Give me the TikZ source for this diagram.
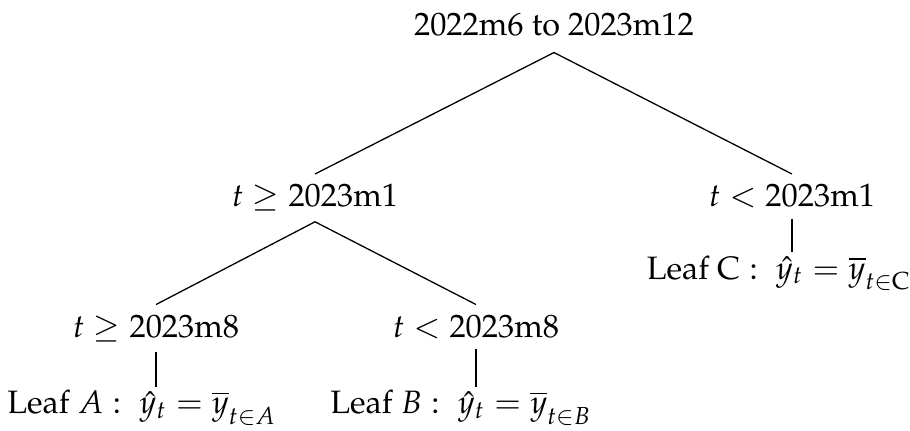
\documentclass[tikz,border=0pt]{standalone}
\usepackage[T1]{fontenc}
\usepackage{mathpazo}
\usepackage{amsmath}
\usepackage{tikz}
\tikzset{
  split/.style={anchor=base,inner sep=3pt},
  leaf/.style={anchor=base,inner sep=0.8pt},
  branch/.style={thin}
}

\begin{document}
\begin{tikzpicture}
\useasboundingbox (0,0) rectangle (9.874,4.666);

% Sample window at the top
\node[split,inner sep=5pt] (root) at (6.011, 4.286) {2022m6 to 2023m12};

% First split
\node[split] (ge1) at (3.418, 2.420) {$t \geq 2023\mathrm{m}1$};
\node[split] (lt1) at (8.593, 2.420) {$t < 2023\mathrm{m}1$};

% Second split
\node[split] (ge8) at (1.693, 1.009) {$t \geq 2023\mathrm{m}8$};
\node[split] (lt8) at (5.165, 1.009) {$t < 2023\mathrm{m}8$};

% Leaves
\node[leaf] (leafA) at (1.541, 0.174) {Leaf $A:\;\hat{y}_t = \overline{y}_{t\in A}$};
\node[leaf] (leafB) at (5.002, 0.174) {Leaf $B:\;\hat{y}_t = \overline{y}_{t\in B}$};
\node[leaf] (leafC) at (8.452, 1.638) {$\text{Leaf C}:\;\hat{y}_t = \overline{y}_{t\in \text{C}}$};

% Branches
\draw[branch] (root.south) -- (ge1.north);
\draw[branch] (root.south) -- (lt1.north);
\draw[branch] (ge1.south) -- (ge8.north);
\draw[branch] (ge1.south) -- (lt8.north);

% Stems down to the leaves
\draw[branch] (ge8.south) -- (ge8.south |- leafA.north);
\draw[branch] (lt8.south) -- (lt8.south |- leafB.north);
\draw[branch] (lt1.south) -- (lt1.south |- leafC.north);

\end{tikzpicture}
\end{document}
